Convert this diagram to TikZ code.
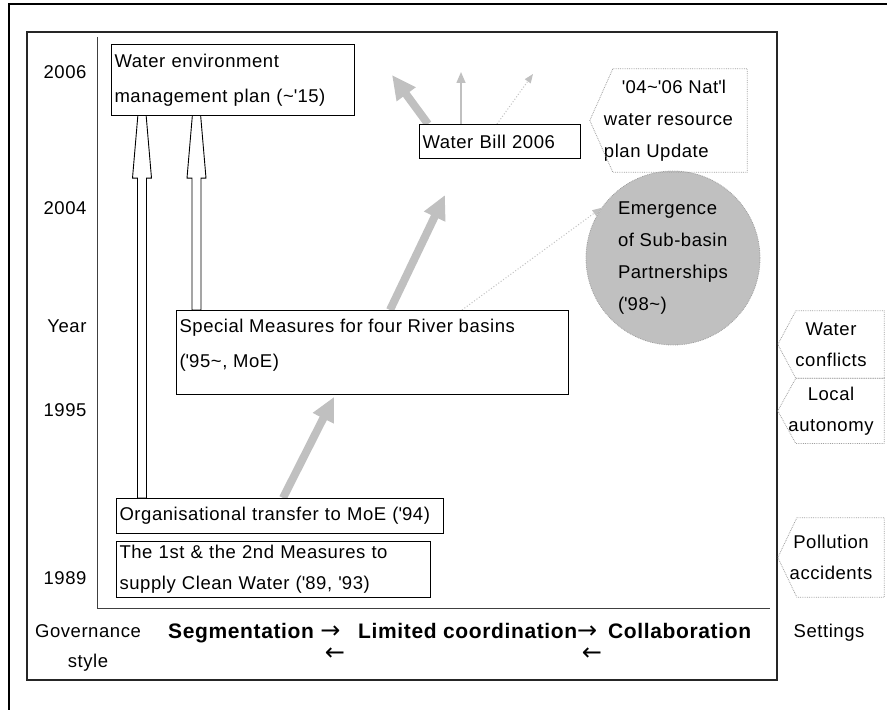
\documentclass[tikz,border=0pt]{standalone}
\usepackage{fontspec}
\setmainfont{Liberation Sans}[LetterSpace=3.0]
\newfontfamily\arrowfont{DejaVu Sans}
\usetikzlibrary{arrows.meta, positioning, backgrounds, calc}
\definecolor{arrowgray}{HTML}{C0C0C0}
\definecolor{dotgray}{HTML}{A0A0A0}
\definecolor{axisgray}{HTML}{404040}
\newcommand{\apos}{\textquotesingle}
\newcommand{\tld}{\textasciitilde}
\newcommand{\regfont}{\fontsize{18.5}{35}\selectfont}
\newcommand{\rarr}{{\arrowfont\mdseries\fontsize{24}{24}\selectfont →}}
\newcommand{\larr}{{\arrowfont\mdseries\fontsize{24}{24}\selectfont ←}}
% hollow block arrow: x position, start anchor, end anchor
\newcommand{\hollowarrow}[3]{%
  \draw[hollow] let \p1=(#2), \p2=(#3) in
    (#1-4.5,\y1) -- (#1-4.5,\y2-62) -- (#1-9.5,\y2-62) -- (#1,\y2+49)
    -- (#1+9.5,\y2-62) -- (#1+4.5,\y2-62) -- (#1+4.5,\y1) -- cycle;}
% pointed frame round a node: node name, depth of the point
\newcommand{\calloutframe}[2]{%
  \draw[callout] ([xshift=#2]#1.north west) -- (#1.north east)
    -- (#1.south east) -- ([xshift=#2]#1.south west) -- (#1.west) -- cycle;}

\begin{document}
\begin{tikzpicture}[x=1pt, y=1pt,
  box/.style={draw, fill=white, line width=1.1pt, inner sep=3pt,
              align=left, anchor=north west},
  setting/.style={inner sep=2pt, align=center, minimum width=106pt,
              font=\fontsize{18.5}{31}\selectfont},
  callout/.style={draw=dotgray, densely dotted, line width=0.8pt},
  yearlabel/.style={anchor=east, font=\regfont},
  govtext/.style={font=\bfseries\fontsize{21}{24}\selectfont,
              inner sep=0pt, text height=15pt, text depth=4pt, anchor=west},
  backarrow/.style={inner sep=0pt, text height=8pt, text depth=0pt},
  hollow/.style={draw, fill=white, line width=0.9pt},
  bigarrow/.style={draw=arrowgray, line width=8pt,
              -{Triangle[length=24pt, width=22pt]}},
  thinarrow/.style={draw=arrowgray, line width=1.5pt,
              -{Triangle[length=11pt, width=9pt]}},
  dotarrow/.style={draw=arrowgray, line width=1pt, dotted,
              -{Triangle[length=9pt, width=7pt]}},
]
\useasboundingbox (0,0) rectangle (887,710);

% frames and axes
\draw[line width=2pt] (9,0) -- (9,706) -- (887,706);
\draw[line width=1.3pt, draw=black!85] (27,30) rectangle (777,678);
\draw[axisgray, line width=1pt] (97,673) -- (97,101) -- (770,101);

% years
\node[yearlabel] (y2006) at (90,638) {2006};
\node[yearlabel] (y2004) at (90,502) {2004};
\node[yearlabel] (year)  at (90,384) {Year};
\node[yearlabel] (y1995) at (90,300) {1995};
\node[yearlabel] (y1989) at (90,132) {1989};

% measures
\node[box, minimum width=243pt, minimum height=71pt, text width=237pt,
      font=\regfont] (env) at (111,666)
      {Water environment\\management plan (\tld\apos15)};
\node[box, minimum width=161pt, minimum height=34pt, text width=155pt,
      font=\regfont] (bill) at (419,586) {Water Bill 2006};
\node[box, font=\regfont] (special) at (176,400)
      {\parbox[c][78pt][t]{386pt}{\rule{0pt}{19pt}Special Measures for
      four River basins\\(\apos95\tld, MoE)}};
\node[box, minimum width=327pt, minimum height=35pt, text width=321pt,
      font=\regfont] (org) at (116,212) {Organisational transfer to MoE (\apos94)};
\node[box, minimum width=314pt, minimum height=56pt, text width=308pt,
      font=\fontsize{18.5}{31}\selectfont] (first) at (116,169)
      {The 1st \& the 2nd Measures to\\supply Clean Water (\apos89, \apos93)};

\node[circle, fill=arrowgray, draw=dotgray, densely dotted, line width=0.8pt,
      minimum size=174pt, inner sep=0pt, align=left,
      font=\fontsize{18.5}{32}\selectfont] (circ) at (673,452)
      {Emergence\\of Sub-basin\\Partnerships\\(\apos98\tld)};
\node[setting, minimum width=157pt, minimum height=103pt, align=left,
      font=\fontsize{18.5}{32}\selectfont] (natl) at (668.5,589.5)
      {\hspace*{18pt}\apos04\tld\apos06 Nat\apos l\\water resource\\plan Update};
\calloutframe{natl}{23pt}

% settings
\node[setting, minimum height=67pt] (conf) at (831,365.5) {Water\\conflicts};
\node[setting, minimum height=65pt, below=0pt of conf] (auto) {Local\\autonomy};
\node[setting, minimum height=79pt] (poll) at (831,152.5) {Pollution\\accidents};
\calloutframe{conf}{18pt}
\calloutframe{auto}{18pt}
\calloutframe{poll}{19pt}

% governance style
\node[align=center, font=\fontsize{18.5}{30}\selectfont] (gov) at (88,62)
      {Governance\\style};
\node[govtext] (seg) at (168,77) {Segmentation \rarr};
\node[govtext] (lim) at (358,77) {Limited coordination\rarr};
\node[govtext] (collab) at (608,77) {Collaboration};
\node[backarrow] (back1) at (335,53) {\larr};
\node[backarrow] (back2) at (592,53) {\larr};
\node[font=\regfont] (settings) at (829,77) {Settings};

% connectors
\begin{scope}[on background layer]
\hollowarrow{142}{org.north}{env.south}
\hollowarrow{196.5}{special.north}{env.south}
\draw[bigarrow, shorten >=2pt] ([xshift=167pt]org.north west)
      -- ([xshift=159pt]special.south west);
\coordinate (sptip) at (445,515);
\draw[bigarrow] ([xshift=214pt]special.north west) -- (sptip);
\coordinate (billtip) at (392,635);
\draw[bigarrow] ([xshift=9pt]bill.north west) -- (billtip);
\coordinate (uptip) at (461,638);
\draw[thinarrow] ([xshift=42pt]bill.north west) -- (uptip);
\coordinate (righttip) at (533,636);
\draw[dotarrow] ([xshift=78pt]bill.north west) -- (righttip);
\draw[dotarrow] ([xshift=286pt]special.north west) -- (circ.145);
\end{scope}
\end{tikzpicture}
\end{document}
